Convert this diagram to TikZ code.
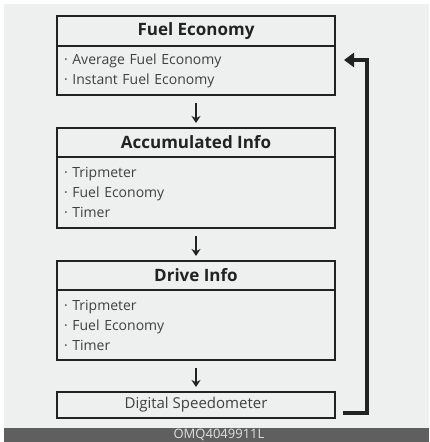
\documentclass[tikz,border=0pt]{standalone}
\usepackage{fontspec}
\setmainfont{Open Sans}
\usepackage{tikz}
\usetikzlibrary{positioning,arrows.meta,calc}
\definecolor{bg}{HTML}{EEEFEF}
\definecolor{bar}{HTML}{5F5F5F}
\definecolor{ink}{HTML}{222222}
\definecolor{txt}{HTML}{404040}

\begin{document}
\begin{tikzpicture}[x=1pt,y=1pt,>=Stealth,node distance=33pt,outer sep=0pt]
\tikzstyle{H}=[draw=ink,line width=2.2pt,minimum width=278pt,minimum height=29pt,font=\fontsize{17}{20}\selectfont\bfseries,text=ink]
\tikzstyle{L}=[draw=ink,line width=2.2pt,minimum width=278pt,text width=264pt,inner xsep=7pt,align=left,font=\fontsize{14}{20}\selectfont,text=txt]
\tikzstyle{S}=[draw=ink,line width=2.2pt,minimum width=278pt,minimum height=26pt,font=\fontsize{15}{18}\selectfont,text=txt]
\tikzstyle{D}=[->,ink,line width=2.4pt,shorten <=8pt,shorten >=5pt,-{Stealth[length=7pt,width=9pt]}]
\useasboundingbox (0,0) rectangle (429,442);
\fill[bg] (4,14) rectangle (429,438);
\fill[bar] (4,0) rectangle (429,14);
\node[text=white!88!black,font=\fontsize{13}{14}\selectfont] (code) at (219,7) {OMQ4049911L};
\node[H,minimum height=30pt] (fe) at (196,411) {Fuel Economy};
\node[L,minimum height=49pt,below=0pt of fe] (feb) {· Average Fuel Economy\\· Instant Fuel Economy};
\node[H,below=of feb] (ai) {Accumulated Info};
\node[L,minimum height=71pt,below=0pt of ai] (aib) {· Tripmeter\\· Fuel Economy\\· Timer};
\node[H,below=of aib] (di) {Drive Info};
\node[L,minimum height=70pt,below=0pt of di] (dib) {· Tripmeter\\· Fuel Economy\\· Timer};
\node[S,below=32pt of dib] (ds) {Digital Speedometer};
\draw[D] (feb) -- (ai);
\draw[D] (aib) -- (di);
\draw[D] (dib) -- (ds);
% return path
\draw[ink,line width=4pt,-{Triangle[length=10pt,width=14pt]}] ([xshift=8pt,yshift=-8.5pt]ds.east) -- ++(24,0) |- ([xshift=9pt,yshift=10.5pt]feb.east);
\end{tikzpicture}
\end{document}
